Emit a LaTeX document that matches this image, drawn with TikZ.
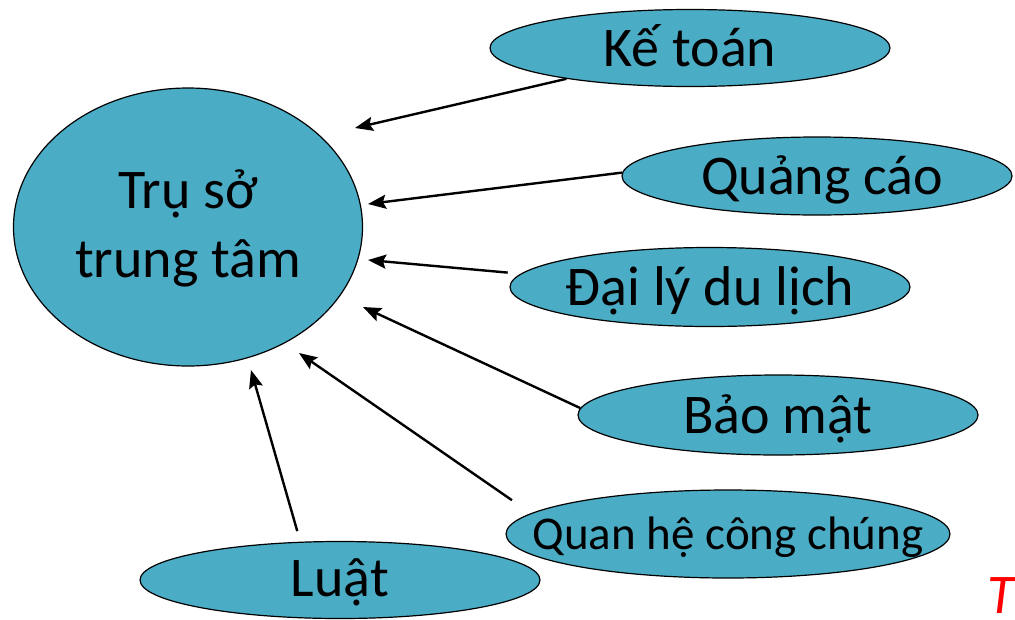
\documentclass[tikz,border=0pt]{standalone}
\usepackage{fontspec}
\setmainfont{Carlito}
\usetikzlibrary{shapes.geometric,arrows.meta}
\definecolor{aqua}{HTML}{4BACC6}
\tikzset{
  oval/.style={ellipse,draw=black,line width=1.2pt,fill=aqua,inner sep=0pt},
  lbl/.style={font=\fontsize{56}{69}\selectfont,text height=36pt,text depth=0pt,inner sep=0pt},
  lblsmall/.style={font=\fontsize{47}{58}\selectfont,text height=30pt,text depth=0pt,inner sep=0pt},
  conn/.style={line width=2.4pt,-{Stealth[length=18pt,width=14pt,inset=3pt]}}
}
\begin{document}
\begin{tikzpicture}[x=1pt,y=-1pt]
\useasboundingbox (0,0) rectangle (1015,619);
\node[oval,minimum width=349pt,minimum height=278pt] (hq) at (188,227) {};
\node[align=center,font=\fontsize{56}{69}\selectfont] at (188,228) {Trụ sở\\trung tâm};
\node[oval,minimum width=400pt,minimum height=77pt] (ke) at (690,48) {};
\node[lbl] at (ke) {Kế toán};
\node[oval,minimum width=390pt,minimum height=78pt] (qc) at (817,176) {};
\node[lbl] at ([xshift=5pt]qc.center) {Quảng cáo};
\node[oval,minimum width=400pt,minimum height=79pt] (dl) at (710,287) {};
\node[lbl] at (dl) {Đại lý du lịch};
\node[oval,minimum width=400pt,minimum height=80pt] (bm) at (778,415) {};
\node[lbl] at (bm) {Bảo mật};
\node[oval,minimum width=444pt,minimum height=88pt] (qh) at (728,534) {};
\node[lblsmall] at (qh) {Quan hệ công chúng};
\node[oval,minimum width=400pt,minimum height=77pt] (lu) at (340,580) {};
\node[lbl] at ([yshift=2pt]lu.center) {Luật};
\node[anchor=base west,text=red,inner sep=0pt,font=\fontsize{56}{69}\selectfont\itshape] (t) at (987,613) {T};
\coordinate (e1) at (355,128);
\coordinate (e2) at (368,204);
\coordinate (e3) at (368,260);
\coordinate (e4) at (363,307);
\coordinate (e5) at (299,353);
\coordinate (e6) at (251,370);
\draw[conn] (ke.194) -- (e1);
\draw[conn] (qc.179) -- (e2);
\draw[conn,shorten <=13pt] (dl.176.4) -- (e3);
\draw[conn] (bm.178.4) -- (e4);
\draw[conn,shorten <=23pt] (qh.174) -- (e5);
\draw[conn,shorten <=11pt] (lu.136) -- (e6);
\end{tikzpicture}
\end{document}
